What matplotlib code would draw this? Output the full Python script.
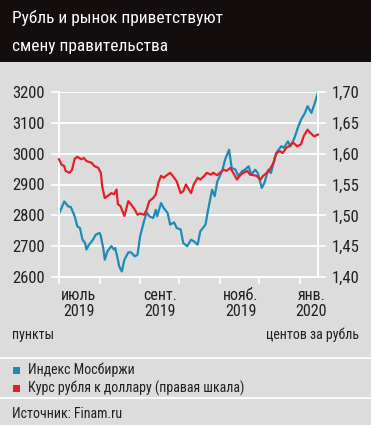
import matplotlib
matplotlib.use("Agg")
import matplotlib.pyplot as plt
import pandas as pd
from matplotlib.lines import Line2D

plt.rcParams['font.family'] = ['Roboto Condensed', 'DejaVu Sans']

title_lines = ["Рубль и рынок приветствуют", "смену правительства"]

moex_dates = ["2019-07-01", "2019-07-05", "2019-07-08", "2019-07-10", "2019-07-13", "2019-07-15",
              "2019-07-17", "2019-07-19", "2019-07-21", "2019-07-22", "2019-07-24", "2019-07-27",
              "2019-07-29", "2019-08-01", "2019-08-02", "2019-08-04", "2019-08-05", "2019-08-07",
              "2019-08-10", "2019-08-12", "2019-08-13", "2019-08-15", "2019-08-16", "2019-08-18",
              "2019-08-20", "2019-08-23", "2019-08-25", "2019-08-28", "2019-08-30", "2019-09-01",
              "2019-09-04", "2019-09-06", "2019-09-08", "2019-09-11", "2019-09-13", "2019-09-14",
              "2019-09-17", "2019-09-19", "2019-09-22", "2019-09-24", "2019-09-27", "2019-09-29",
              "2019-10-02", "2019-10-04", "2019-10-07", "2019-10-10", "2019-10-12", "2019-10-15",
              "2019-10-17", "2019-10-21", "2019-10-23", "2019-10-26", "2019-10-28", "2019-10-30",
              "2019-11-01", "2019-11-03", "2019-11-05", "2019-11-08", "2019-11-10", "2019-11-13",
              "2019-11-15", "2019-11-18", "2019-11-20", "2019-11-23", "2019-11-25", "2019-11-28",
              "2019-11-30", "2019-12-03", "2019-12-05", "2019-12-08", "2019-12-10", "2019-12-13",
              "2019-12-15", "2019-12-18", "2019-12-20", "2019-12-23", "2019-12-25", "2019-12-28",
              "2019-12-31", "2020-01-02", "2020-01-05", "2020-01-07", "2020-01-10", "2020-01-13",
              "2020-01-15"]
moex_values = [2805, 2845, 2829, 2827, 2797, 2764,
               2759, 2721, 2710, 2689, 2705, 2721,
               2737, 2743, 2732, 2689, 2656, 2683,
               2700, 2689, 2694, 2656, 2635, 2618,
               2656, 2680, 2680, 2667, 2672, 2732,
               2781, 2810, 2797, 2791, 2818, 2797,
               2840, 2824, 2808, 2770, 2777, 2759,
               2754, 2710, 2700, 2721, 2716, 2705,
               2748, 2770, 2818, 2883, 2862, 2910,
               2927, 2948, 2981, 3013, 2954, 2948,
               2927, 2943, 2948, 2959, 2932, 2948,
               2937, 2889, 2905, 2948, 2937, 2986,
               3008, 3024, 3019, 3040, 3024, 3051,
               3089, 3110, 3132, 3154, 3132, 3170,
               3199]

rub_dates = ["2019-07-01", "2019-07-03", "2019-07-05", "2019-07-06", "2019-07-09", "2019-07-11",
             "2019-07-13", "2019-07-15", "2019-07-18", "2019-07-20", "2019-07-22", "2019-07-26",
             "2019-07-28", "2019-07-31", "2019-08-02", "2019-08-03", "2019-08-05", "2019-08-07",
             "2019-08-10", "2019-08-12", "2019-08-14", "2019-08-15", "2019-08-17", "2019-08-20",
             "2019-08-23", "2019-08-25", "2019-08-28", "2019-08-30", "2019-09-01", "2019-09-04",
             "2019-09-06", "2019-09-08", "2019-09-11", "2019-09-13", "2019-09-15", "2019-09-17",
             "2019-09-19", "2019-09-22", "2019-09-24", "2019-09-27", "2019-09-29", "2019-10-02",
             "2019-10-04", "2019-10-06", "2019-10-10", "2019-10-12", "2019-10-15", "2019-10-17",
             "2019-10-20", "2019-10-22", "2019-10-25", "2019-10-27", "2019-10-30", "2019-11-01",
             "2019-11-04", "2019-11-06", "2019-11-09", "2019-11-12", "2019-11-14", "2019-11-17",
             "2019-11-19", "2019-11-22", "2019-11-24", "2019-11-27", "2019-11-29", "2019-12-02",
             "2019-12-04", "2019-12-07", "2019-12-09", "2019-12-12", "2019-12-14", "2019-12-17",
             "2019-12-19", "2019-12-22", "2019-12-24", "2019-12-27", "2019-12-30", "2020-01-02",
             "2020-01-04", "2020-01-07", "2020-01-09", "2020-01-12", "2020-01-15"]
rub_values = [1.591, 1.582, 1.580, 1.572, 1.569, 1.574,
              1.592, 1.595, 1.591, 1.593, 1.588, 1.585,
              1.580, 1.577, 1.569, 1.547, 1.528, 1.531,
              1.536, 1.534, 1.542, 1.518, 1.515, 1.499,
              1.523, 1.518, 1.509, 1.501, 1.503, 1.501,
              1.509, 1.523, 1.528, 1.534, 1.553, 1.564,
              1.561, 1.566, 1.569, 1.561, 1.555, 1.536,
              1.539, 1.550, 1.536, 1.550, 1.561, 1.558,
              1.564, 1.569, 1.566, 1.569, 1.565, 1.569,
              1.574, 1.572, 1.577, 1.566, 1.558, 1.566,
              1.569, 1.572, 1.566, 1.565, 1.564, 1.558,
              1.564, 1.569, 1.574, 1.585, 1.601, 1.604,
              1.601, 1.610, 1.612, 1.618, 1.612, 1.615,
              1.628, 1.639, 1.634, 1.628, 1.631]

left_ticks = [2600, 2700, 2800, 2900, 3000, 3100, 3200]
right_ticks = [1.40, 1.45, 1.50, 1.55, 1.60, 1.65, 1.70]
month_bounds = ["2019-07-01", "2019-08-01", "2019-09-01", "2019-10-01", "2019-11-01", "2019-12-01", "2020-01-01"]
label_dates = ["2019-07-16", "2019-09-16", "2019-11-17", "2020-01-10"]
label_texts = ["июль\n2019", "сент.\n2019", "нояб.\n2019", "янв.\n2020"]
left_unit = "пункты"
right_unit = "центов за рубль"
legend_labels = ["Индекс Мосбиржи", "Курс рубля к доллару (правая шкала)"]
source = "Источник: Finam.ru"

BG = "#dcdcdc"
BLUE = "#1e8ab6"
RED = "#e3202a"
TXT = "#231f20"

W, H = 371, 425
fig = plt.figure(figsize=(W / 100, H / 100), dpi=100, facecolor=BG)

def fx(px):
    return px / W

def fy(py):
    return 1 - py / H

# title bar
fig.patches.append(plt.Rectangle((0, fy(62)), 1, 62 / H, transform=fig.transFigure,
                                 facecolor="#130d0e", edgecolor="none", zorder=0))
fig.text(fx(12), fy(18), title_lines[0], color="white", fontsize=12.5, va="center", ha="left")
fig.text(fx(12), fy(47), title_lines[1], color="white", fontsize=12.5, va="center", ha="left")

ax = fig.add_axes([fx(59), fy(277), fx(318) - fx(59), (277 - 92) / H])
ax.set_facecolor(BG)
ax2 = ax.twinx()

xd_m = pd.to_datetime(moex_dates)
xd_r = pd.to_datetime(rub_dates)

ax.plot(xd_m, moex_values, color=BLUE, lw=1.6, clip_on=False, zorder=3, solid_joinstyle="round")
ax2.plot(xd_r, rub_values, color=RED, lw=1.6, clip_on=False, zorder=4, solid_joinstyle="round")

ax.set_ylim(left_ticks[0], left_ticks[-1])
ax2.set_ylim(right_ticks[0], right_ticks[-1])
ax.set_xlim(pd.Timestamp("2019-07-01"), pd.Timestamp("2020-01-15"))

ax.set_yticks(left_ticks)
ax.set_yticklabels([str(v) for v in left_ticks])
ax2.set_yticks(right_ticks)
ax2.set_yticklabels([f"{v:.2f}".replace(".", ",") for v in right_ticks])
ax.grid(axis="y", color="white", lw=1.3)
ax.set_axisbelow(True)

ax.set_xticks(pd.to_datetime(month_bounds))
ax.set_xticklabels([])
ax.set_xticks(pd.to_datetime(label_dates), minor=True)
ax.set_xticklabels(label_texts, minor=True)
ax.tick_params(axis="x", which="major", direction="out", length=5, width=1.2, color="white")
ax.tick_params(axis="x", which="minor", length=0, pad=8, labelsize=11.5, labelcolor=TXT)
for t in ax.get_xticklabels(minor=True):
    t.set_linespacing(1.05)

ax.tick_params(axis="y", direction="out", length=6, width=1.2, color="white", pad=4,
               labelsize=12, labelcolor=TXT)
ax2.tick_params(axis="y", direction="out", length=6, width=1.2, color="white", pad=4,
                labelsize=12, labelcolor=TXT)

for a in (ax, ax2):
    a.spines["top"].set_visible(False)
    for s in ("left", "right", "bottom"):
        a.spines[s].set_color("white")
        a.spines[s].set_linewidth(1.3)

fig.text(fx(12), fy(335), left_unit, fontsize=10, color=TXT, va="center", ha="left")
fig.text(fx(359), fy(335), right_unit, fontsize=10, color=TXT, va="center", ha="right")

fig.add_artist(Line2D([0, 1], [fy(358), fy(358)], transform=fig.transFigure, color="white", lw=1.3))
fig.add_artist(Line2D([0, 1], [fy(398), fy(398)], transform=fig.transFigure, color="white", lw=1.3))

for i, (lab, col) in enumerate(zip(legend_labels, [BLUE, RED])):
    yc = 370 + i * 18
    fig.patches.append(plt.Rectangle((fx(13), fy(yc + 3.5)), 7 / W, 7 / H, transform=fig.transFigure,
                                     facecolor=col, edgecolor="none"))
    fig.text(fx(28), fy(yc), lab, fontsize=10, color=TXT, va="center", ha="left")

fig.text(fx(12), fy(414), source, fontsize=10, color=TXT, va="center", ha="left")

fig.savefig("out.png", dpi=100, facecolor=BG)
